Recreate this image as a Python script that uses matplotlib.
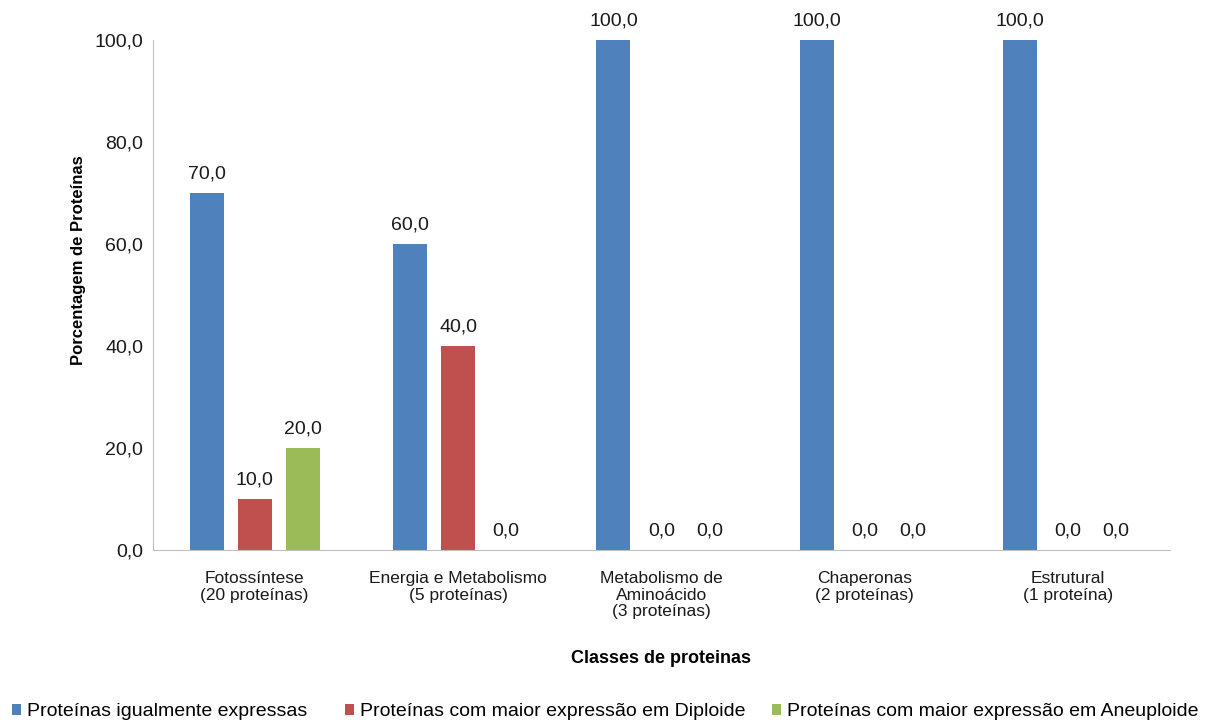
import matplotlib.pyplot as plt
import numpy as np

plt.rcParams['font.family'] = ['Liberation Sans', 'DejaVu Sans']

# dados
categorias = ["Fotossíntese\n(20 proteínas)", "Energia e Metabolismo\n(5 proteínas)",
              "Metabolismo de\nAminoácido\n(3 proteínas)", "Chaperonas\n(2 proteínas)",
              "Estrutural\n(1 proteína)"]
igual = [70.0, 60.0, 100.0, 100.0, 100.0]
diploide = [10.0, 40.0, 0.0, 0.0, 0.0]
aneuploide = [20.0, 0.0, 0.0, 0.0, 0.0]
series_nomes = ["Proteínas igualmente expressas",
                "Proteínas com maior expressão em Diploide",
                "Proteínas com maior expressão em Aneuploide"]
cores = ["#4f81bd", "#c0504d", "#9bbb59"]
yticks = [0, 20, 40, 60, 80, 100]

fig = plt.figure(figsize=(12.11, 7.27), dpi=100)
ax = fig.add_axes([0.1263, 0.2435, 0.8397, 0.7015])

x = np.arange(len(categorias))
largura = 0.167
passo = 0.236

barras = []
for k, (vals, nome, cor) in enumerate(zip([igual, diploide, aneuploide], series_nomes, cores)):
    pos = x + (k - 1) * passo
    barras.append(ax.bar(pos, vals, largura, color=cor, label=nome))
    for p, v in zip(pos, vals):
        ax.text(p, v + 2.0, ("%.1f" % v).replace(".", ","), ha="center", va="bottom",
                fontsize=14, color="#1a1a1a")

ax.set_xlim(-0.5, len(categorias) - 0.5)
ax.set_ylim(0, 100)
ax.set_yticks(yticks)
ax.set_yticklabels([("%.1f" % t).replace(".", ",") for t in yticks], fontsize=14)
ax.set_xticks(x)
ax.set_xticklabels(categorias, fontsize=12.5, linespacing=1.15)
ax.tick_params(axis="y", length=0, pad=7, colors="#1a1a1a")
ax.tick_params(axis="x", length=0, pad=15, colors="#1a1a1a")

for s in ["top", "right"]:
    ax.spines[s].set_visible(False)
ax.spines["left"].set_color("#bfbfbf")
ax.spines["bottom"].set_color("#bfbfbf")

ax.set_ylabel("Porcentagem de Proteínas", fontsize=12, fontweight="bold")
ax.yaxis.set_label_coords(-0.066, 0.569)
ax.set_xlabel("Classes de proteinas", fontsize=13, fontweight="bold", labelpad=22)

# legenda: cada item na sua posição
for b, nome, xl in zip(barras, series_nomes, [0.0099, 0.285, 0.6375]):
    fig.legend([b], [nome], loc="center left", bbox_to_anchor=(xl, 0.021), frameon=False,
               fontsize=14, handlelength=0.45, handleheight=0.45, handletextpad=0.3,
               borderpad=0, borderaxespad=0)

plt.savefig("out.png", dpi=100)
